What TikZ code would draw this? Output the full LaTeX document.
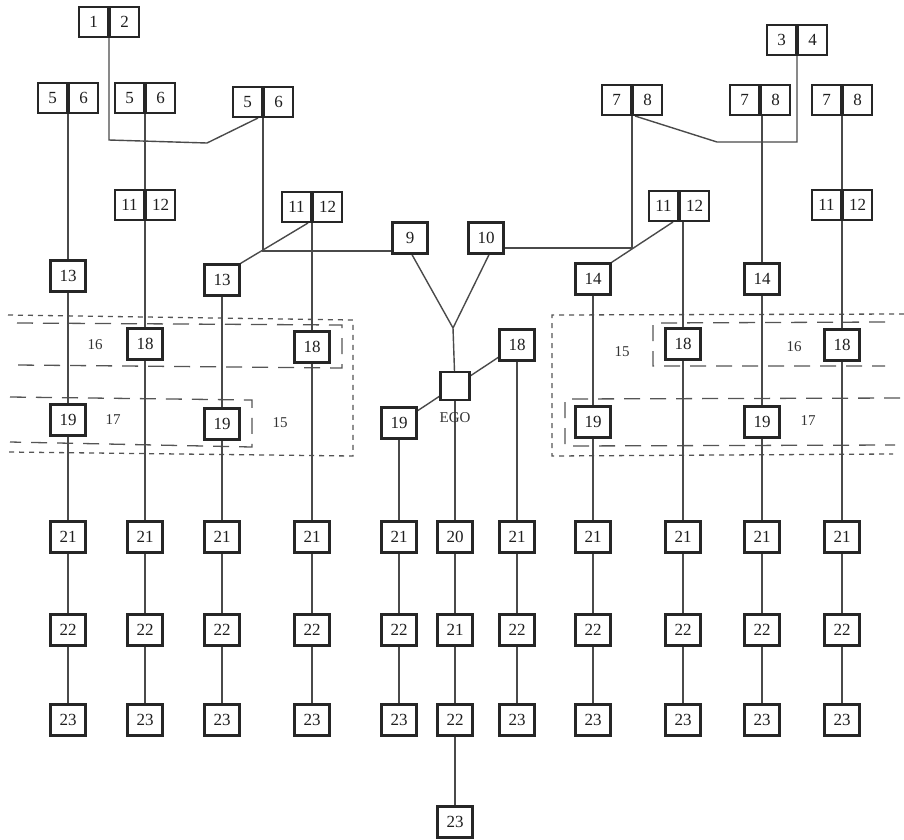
\documentclass[tikz,border=0pt]{standalone}
\usepackage{fontspec}
\setmainfont{Liberation Serif}
\usetikzlibrary{calc}
\pgfdeclarelayer{bg}
\pgfsetlayers{bg,main}
\definecolor{boxc}{HTML}{262626}
\definecolor{linec}{HTML}{4A4A4A}
\definecolor{dashc}{HTML}{555555}
\definecolor{labc}{HTML}{333333}
\definecolor{txtc}{HTML}{1E1E1E}
\newcommand\pairbox[5]{%
  \node[half,anchor=east] (#1l) at (#2,#3) {#4};
  \node[half,anchor=west] (#1r) at (#2,#3) {#5};
  \coordinate (#1) at (#2,#3);}
\begin{document}
\begin{tikzpicture}[x=1pt,y=-1pt,
  box/.style={draw=boxc, line width=2.3pt, fill=white, inner sep=0pt,
    minimum width=35pt, minimum height=31pt, font=\fontsize{17}{17}\selectfont, text=txtc},
  half/.style={box, line width=2pt, minimum width=29pt, minimum height=30pt},
  conn/.style={draw=linec, line width=1.4pt},
  dotb/.style={draw=dashc, line width=1.3pt, dash pattern=on 5pt off 5pt},
  longd/.style={draw=dashc, line width=1.3pt, dash pattern=on 16pt off 10pt},
  lab/.style={font=\fontsize{15}{15}\selectfont, text=labc}]
\useasboundingbox (0,0) rectangle (904,839);

% pair boxes
\pairbox{pA}{109}{22}{1}{2}
\pairbox{pB}{68}{98}{5}{6}
\pairbox{pC}{145}{98}{5}{6}
\pairbox{pD}{263}{102}{5}{6}
\pairbox{pE}{145}{205}{11}{12}
\pairbox{pF}{312}{207}{11}{12}
\pairbox{pG}{797}{40}{3}{4}
\pairbox{pH}{632}{100}{7}{8}
\pairbox{pI}{760}{100}{7}{8}
\pairbox{pJ}{842}{100}{7}{8}
\pairbox{pK}{679}{206}{11}{12}
\pairbox{pL}{842}{205}{11}{12}

% single boxes
\node[box] (a13) at (68,276) {13};
\node[box] (b13) at (222,280) {13};
\node[box] (n9) at (410,238) {9};
\node[box] (n10) at (486,238) {10};
\node[box] (a14) at (593,279) {14};
\node[box] (b14) at (762,279) {14};
\node[box] (a18) at (145,344) {18};
\node[box] (b18) at (312,347) {18};
\node[box] (c18) at (517,345) {18};
\node[box] (d18) at (683,344) {18};
\node[box] (e18) at (842,345) {18};
\node[box] (a19) at (68,420) {19};
\node[box] (b19) at (222,424) {19};
\node[box] (c19) at (399,423) {19};
\node[box] (d19) at (593,422) {19};
\node[box] (e19) at (762,422) {19};
\node[box,minimum width=29pt,minimum height=28pt] (ego) at (455,386) {};
\node[lab] (egol) at (455,418) {EGO};

\foreach \c/\x in {1/68,2/145,3/222,4/312,5/399,7/517,8/593,9/683,10/762,11/842}{
  \node[box] (t\c) at (\x,537) {21};
  \node[box] (m\c) at (\x,630) {22};
  \node[box] (b\c) at (\x,720) {23};
}
\node[box] (e20) at (455,537) {20};
\node[box] (e21) at (455,630) {21};
\node[box] (e22) at (455,720) {22};
\node[box] (e23) at (455,822) {23};

% region labels
\node[lab] (l16a) at (95,345) {16};
\node[lab] (l17a) at (113,420) {17};
\node[lab] (l15a) at (280,423) {15};
\node[lab] (l15b) at (622,352) {15};
\node[lab] (l16b) at (794,347) {16};
\node[lab] (l17b) at (808,421) {17};

\coordinate (jl) at (263,251);
\coordinate (jv) at (453,328);
\coordinate (jr) at (632,248);
\coordinate (ka) at (109,140);
\coordinate (kb) at (207,143);
\coordinate (kc) at (797,142);
\coordinate (kd) at (717,142);

\begin{pgfonlayer}{bg}
% dashed regions
\draw[dotb] (8,315) -- (353,320) -- (353,456) -- (8,452);
\draw[longd] (17,323) -- (342,325) -- (342,368) -- (17,365);
\draw[longd] (10,397) -- (252,400) -- (252,447) -- (10,442);
\draw[dotb] (904,314) -- (552,315) -- (552,456) -- (893,454);
\draw[longd] (885,322) -- (653,323) -- (653,366) -- (885,366);
\draw[longd] (900,398) -- (565,399) -- (565,446) -- (895,445);

% columns
\draw[conn] (pB) -- (a13.center) -- (a19.center) -- (t1.center) -- (m1.center) -- (b1.center);
\draw[conn] (pC) -- (pE) -- (a18.center) -- (t2.center) -- (m2.center) -- (b2.center);
\draw[conn] (b13.center) -- (b19.center) -- (t3.center) -- (m3.center) -- (b3.center);
\draw[conn] (pF) -- (b18.center) -- (t4.center) -- (m4.center) -- (b4.center);
\draw[conn] (c19.center) -- (t5.center) -- (m5.center) -- (b5.center);
\draw[conn] (ego.center) -- (e20.center) -- (e21.center) -- (e22.center) -- (e23.center);
\draw[conn] (c18.center) -- (t7.center) -- (m7.center) -- (b7.center);
\draw[conn] (a14.center) -- (d19.center) -- (t8.center) -- (m8.center) -- (b8.center);
\draw[conn] (d18.center |- pK) -- (d18.center) -- (t9.center) -- (m9.center) -- (b9.center);
\draw[conn] (b14.center |- pI) -- (b14.center) -- (e19.center) -- (t10.center) -- (m10.center) -- (b10.center);
\draw[conn] (pJ) -- (pL) -- (e18.center) -- (t11.center) -- (m11.center) -- (b11.center);

% upper links
\draw[conn] (pA) -- (ka) -- (kb) -- ($(pDl.south east)+(-5,0)$);
\draw[conn] (pD) -- (jl) -- (jl -| n9.west);
\draw[conn] ($(pFl.south east)+(-4,0)$) -- (b13.north east);
\draw[conn] ($(n9.south)+(2,0)$) -- (jv) -- (ego.center);
\draw[conn] ($(n10.south)+(3,0)$) -- (jv);
\draw[conn] (n10.east |- jr) -- (jr) -- (pH);
\draw[conn] ($(pKl.south east)+(-6,0)$) -- (a14.north east);
\draw[conn] (pG) -- (kc) -- (kd) -- ($(pHl.south east)+(3,0)$);
\draw[conn] (ego.center) -- (c18.center);
\draw[conn] (ego.center) -- (c19.center);
\end{pgfonlayer}
\end{tikzpicture}
\end{document}
